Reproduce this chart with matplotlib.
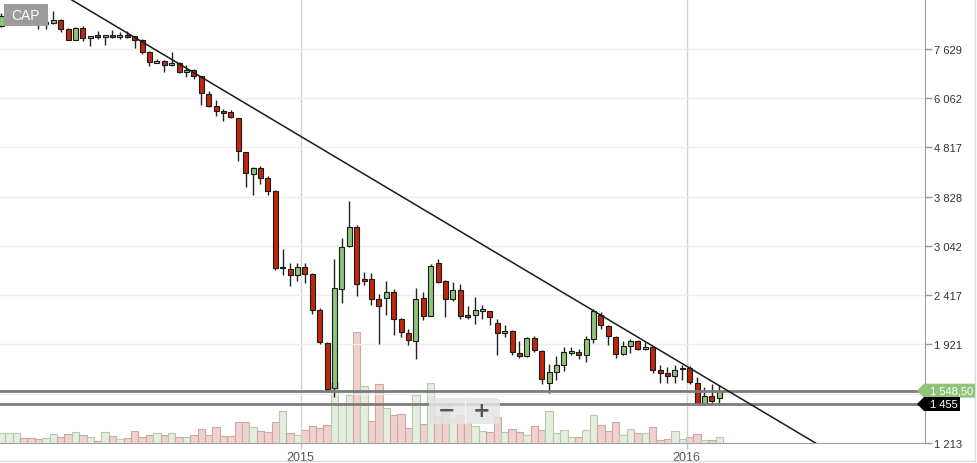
import matplotlib
matplotlib.use('Agg')
import matplotlib.pyplot as plt
import matplotlib.dates as mdates
from matplotlib.patches import FancyBboxPatch, Polygon
from matplotlib.lines import Line2D
from matplotlib.ticker import FixedLocator, NullLocator, FuncFormatter
from matplotlib.transforms import IdentityTransform
import numpy as np
import pandas as pd

plt.rcParams['font.family'] = ['Liberation Sans', 'DejaVu Sans']

# ---------------- data ----------------
symbol = 'CAP'
first_week = '2014-03-24'
opens = [8488, 8870, 8950, 9000, 8850, 8700, 8560, 8595, 8728, 8370,
         7962, 8409, 8015, 8139, 8063, 8150, 8063, 8150, 8090, 7940,
         7530, 7144, 7211, 7068, 7134, 6841, 6905, 6715, 6174, 5840,
         5706, 5679, 5522, 4706, 4261, 4368, 4183, 3937, 2760, 2730,
         2652, 2758, 2670, 2254, 1934, 1568, 2489, 3036, 3324, 2608,
         2608, 2376, 2383, 2451, 2161, 2029, 1948, 2387, 2195, 2810,
         2580, 2372, 2477, 2208, 2202, 2243, 2243, 2122, 2026, 2048,
         1845, 1820, 1979, 1863, 1605, 1690, 1746, 1845, 1854, 1825,
         1973, 2205, 2093, 1988, 1834, 1903, 1951, 1883, 1898, 1705,
         1682, 1655, 1710, 1724, 1605, 1457, 1511, 1497]
highs = [9018, 9000, 9060, 9030, 8880, 8730, 8700, 9115, 8769, 8409,
         8430, 8476, 8101, 8292, 8150, 8331, 8253, 8292, 8101, 7988,
         7555, 7279, 7228, 7530, 7160, 7088, 6930, 6724, 6261, 6014,
         5767, 5748, 5535, 4720, 4403, 4415, 4214, 3950, 3004, 2810,
         2814, 2810, 2675, 2278, 1940, 2867, 3158, 3750, 3349, 2698,
         2678, 2432, 2580, 2489, 2170, 2067, 2501, 2451, 2801, 2867,
         2590, 2575, 2544, 2299, 2401, 2310, 2250, 2164, 2099, 2055,
         1951, 1990, 2000, 1870, 1756, 1817, 1898, 1898, 1883, 1997,
         2267, 2236, 2100, 1995, 1948, 1973, 1958, 1943, 1905, 1742,
         1729, 1742, 1742, 1737, 1651, 1575, 1600, 1592]
lows = [8448, 8830, 8900, 8800, 8650, 8370, 8370, 8567, 8253, 7933,
        7940, 7925, 7744, 7988, 7780, 8026, 7988, 8040, 7661, 7450,
        7045, 7130, 6841, 7050, 6820, 6684, 6631, 5876, 5820, 5574,
        5461, 5535, 4513, 4007, 3857, 4067, 3857, 2715, 2661, 2521,
        2587, 2560, 2210, 1921, 1541, 1504, 2329, 3030, 2413, 2536,
        2310, 1921, 2205, 2010, 1988, 1912, 1791, 2154, 2190, 2556,
        2188, 2357, 2164, 2164, 2109, 2164, 2099, 1825, 1988, 1825,
        1803, 1812, 1856, 1600, 1534, 1625, 1694, 1831, 1797, 1770,
        1936, 2067, 1912, 1803, 1825, 1845, 1874, 1868, 1684, 1605,
        1605, 1605, 1630, 1600, 1446, 1446, 1463, 1453]
closes = [8893, 8950, 9010, 8850, 8700, 8560, 8640, 8728, 8370, 7962,
          8409, 8026, 8090, 8052, 8139, 8063, 8139, 8063, 7940, 7510,
          7168, 7211, 7078, 7144, 6841, 6915, 6715, 6203, 5840, 5700,
          5653, 5548, 4728, 4277, 4368, 4183, 3933, 2743, 2748, 2652,
          2758, 2667, 2254, 1943, 1558, 2497, 3028, 3324, 2544, 2580,
          2376, 2303, 2451, 2164, 2035, 1957, 2372, 2195, 2775, 2568,
          2376, 2477, 2198, 2181, 2254, 2264, 2181, 2026, 2048, 1854,
          1820, 1979, 1874, 1638, 1690, 1746, 1854, 1863, 1825, 1973,
          2243, 2099, 1998, 1834, 1907, 1951, 1883, 1900, 1702, 1682,
          1655, 1708, 1724, 1613, 1457, 1511, 1476, 1548.5]
volumes = [9.7, 9.7, 9.7, 4.7, 4.7, 3.7, 4.7, 8.7, 5.7, 8.7,
           10.7, 7.7, 5.7, 2.0, 10.7, 6.7, 3.7, 4.7, 11.7, 5.7,
           7.7, 9.7, 7.7, 9.7, 5.7, 5.7, 7.7, 13.7, 7.7, 15.7,
           6.7, 6.7, 20.7, 20.7, 15.7, 11.7, 10.7, 20.7, 32, 10,
           7.7, 12.7, 17, 15, 18, 60, 40, 48, 111, 57,
           22, 59, 35, 28, 29, 15.3, 48, 19, 60, 27,
           38, 23.6, 27.6, 20, 17, 12, 11, 26, 11, 14,
           11, 8, 17, 13, 32, 10, 13, 6, 6, 13,
           28, 18, 12, 21, 8, 14, 10, 10, 16, 3,
           4, 12, 4, 6, 9, 3, 3, 6]
price_ticks = [1213, 1527, 1921, 2417, 3042, 3828, 4817, 6062, 7629]
hidden_tick_labels = [1527]
year_ticks = ['2015-01-01', '2016-01-01']
year_labels = ['2015', '2016']
trend_dates = ['2014-05-28', '2016-05-02']
trend_values = [9626, 1213]
last_price = 1548.50
last_price_label = '1 548,50'
support_price = 1455
support_label = '1 455'

# ---------------- styling ----------------
W, H = 978, 464
UP_BODY = '#8fc47a'
DOWN_BODY = '#c1260c'
UP_VOL, UP_VOL_EDGE = '#e3efdc', '#b9c9b1'
DOWN_VOL, DOWN_VOL_EDGE = '#f1d1cc', '#c9aaa6'

dates = pd.date_range(first_week, periods=len(opens), freq='7D')
x = mdates.date2num(dates)
o = np.array(opens, float)
h = np.array(highs, float)
l = np.array(lows, float)
c = np.array(closes, float)
up = c > o
vol_up = np.r_[True, c[1:] >= c[:-1]]

fig = plt.figure(figsize=(W / 100, H / 100), dpi=100)
fig.patch.set_facecolor('white')
rect = [0, 20 / H, 925 / W, 444 / H]
axv = fig.add_axes(rect)
ax = fig.add_axes(rect, sharex=axv)
ax.patch.set_alpha(0)

# volume
axv.bar(x, volumes, width=7, color=np.where(vol_up, UP_VOL, DOWN_VOL),
        edgecolor=np.where(vol_up, UP_VOL_EDGE, DOWN_VOL_EDGE), linewidth=0.8)
axv.set_ylim(0, 444)
axv.set_axis_off()

# price axis
ax.set_yscale('log')
ax.set_ylim(1213, 9626)
start_num = mdates.date2num(pd.Timestamp(first_week))
ax.set_xlim(start_num - 1.4, start_num + 873.6)

ax.yaxis.set_major_locator(FixedLocator(price_ticks))
ax.yaxis.set_minor_locator(NullLocator())
ax.yaxis.set_major_formatter(FuncFormatter(
    lambda v, p: '' if int(round(v)) in hidden_tick_labels else f'{int(round(v)):,}'.replace(',', ' ')))
ax.yaxis.tick_right()
ax.tick_params(axis='y', which='both', direction='out', length=5, width=1,
               color='#9a9a9a', pad=1.5, labelsize=8, labelcolor='#333333')
ax.set_xticks(mdates.date2num(pd.to_datetime(year_ticks)))
ax.set_xticklabels(year_labels)
ax.xaxis.set_minor_locator(NullLocator())
ax.tick_params(axis='x', direction='out', length=4, width=1, color='#c8c8c8',
               pad=1.5, labelsize=9, labelcolor='#555555')
ax.yaxis.grid(True, color='#eeeeee', lw=1)
ax.xaxis.grid(True, color='#d4d4d4', lw=1)
ax.set_axisbelow(True)
for s in ('top', 'left'):
    ax.spines[s].set_visible(False)
ax.spines['right'].set_color('#9a9a9a')
ax.spines['bottom'].set_color('#a0a0a0')

# candles
ax.vlines(x, l, h, color='#222222', lw=1, zorder=3)
ax.bar(x, np.abs(c - o), bottom=np.minimum(o, c), width=4.7,
       color=np.where(up, UP_BODY, DOWN_BODY), edgecolor='#1a1a1a',
       linewidth=0.8, zorder=4)

# level lines and trendline
ax.axhline(last_price, color='#7c7c7c', lw=2, zorder=5)
ax.axhline(support_price, color='#7c7c7c', lw=2, zorder=5)
ax.plot(pd.to_datetime(trend_dates), trend_values, color='#1a1a1a', lw=1.1, zorder=6)

# price tags on the right axis
def tag(price, right, fc, text):
    yd = ax.transData.transform((x[0], price))[1]
    pts = [(917, yd), (924, yd + 7), (right, yd + 7), (right, yd - 7), (924, yd - 7)]
    fig.patches.append(Polygon(pts, closed=True, facecolor=fc, edgecolor='none',
                               transform=IdentityTransform(), figure=fig, zorder=10))
    fig.text(930 / W, yd / H, text, color='white', fontsize=8, va='center',
             ha='left', zorder=11)

tag(last_price, 975, UP_BODY, last_price_label)
tag(support_price, 960, '#000000', support_label)

# symbol label
fig.patches.append(FancyBboxPatch((4 / W, 1 - 27 / H), 44 / W, 22 / H,
                                  boxstyle='square,pad=0', facecolor='#9c9c9c',
                                  edgecolor='none', transform=fig.transFigure,
                                  figure=fig, zorder=10))
fig.text(26 / W, 1 - 16 / H, symbol, color='white', fontsize=10, ha='center',
         va='center', zorder=11)

# zoom buttons
fig.patches.append(FancyBboxPatch((429 / W, 1 - 425 / H), 71 / W, 26 / H,
                                  boxstyle='round,pad=0,rounding_size=0.006',
                                  facecolor='#e4e4e4', edgecolor='none', alpha=0.85,
                                  transform=fig.transFigure, figure=fig, zorder=10))
fig.lines.append(Line2D([465.5 / W, 465.5 / W], [1 - 424 / H, 1 - 400 / H],
                        color='#f4f4f4', lw=1, transform=fig.transFigure, figure=fig, zorder=11))
fig.text(446.5 / W, 1 - 411 / H, '\u2212', color='#555555', fontsize=15,
         fontweight='bold', ha='center', va='center', family='DejaVu Sans', zorder=12)
fig.text(481.5 / W, 1 - 411 / H, '+', color='#555555', fontsize=15,
         fontweight='bold', ha='center', va='center', family='DejaVu Sans', zorder=12)

# outer frame
fig.lines.append(Line2D([975.5 / W, 975.5 / W], [1 - 462 / H, 1], color='#dddddd',
                        lw=1, transform=fig.transFigure, figure=fig))
fig.lines.append(Line2D([0, 975.5 / W], [1 - 462 / H, 1 - 462 / H], color='#dddddd',
                        lw=1, transform=fig.transFigure, figure=fig))

fig.savefig('out.png', dpi=100, facecolor='white')
